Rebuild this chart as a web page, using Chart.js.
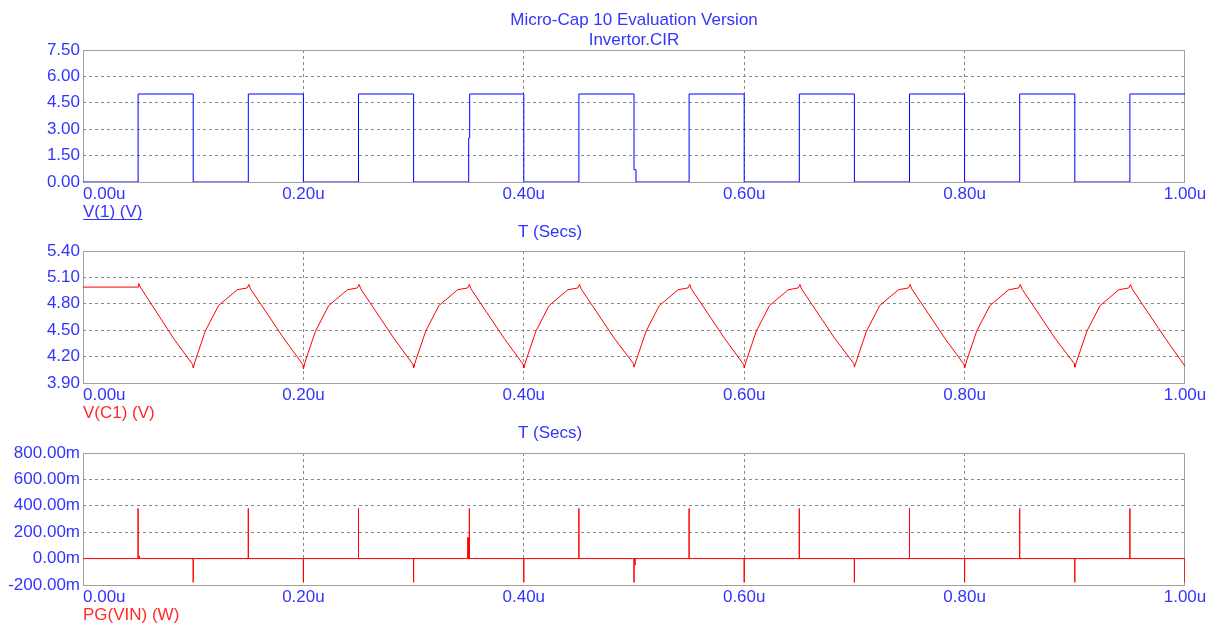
<!DOCTYPE html>
<html>
<head>
<script src="https://cdn.jsdelivr.net/npm/chart.js@4/dist/chart.umd.min.js"></script>
<style>
  body { margin: 0; background: #fff; }
  #wrap { position: relative; width: 1209px; height: 625px; }
  #wrap canvas { position: absolute; left: 0; top: 0; }
</style>
</head>
<body>
<div id="wrap">
  <canvas id="c1" width="1209" height="625"></canvas>
  <canvas id="c2" width="1209" height="625"></canvas>
  <canvas id="c3" width="1209" height="625"></canvas>
</div>
<script>
// time axis, microseconds
const timeTicks = ['0.00u', '0.20u', '0.40u', '0.60u', '0.80u', '1.00u'];

// V(1) - input square wave (step points)
const v1Time = [0, 0.05, 0.10, 0.15, 0.20, 0.25, 0.30, 0.35, 0.3509, 0.40, 0.45, 0.50, 0.5018,
                0.55, 0.60, 0.65, 0.70, 0.75, 0.80, 0.85, 0.90, 0.95, 1.00];
const v1Volt = [0, 5, 0, 5, 0, 5, 0, 2.5, 5, 0, 5, 0.7, 0,
                5, 0, 5, 0, 5, 0, 5, 0, 5, 5];
const v1Ticks = ['0.00', '1.50', '3.00', '4.50', '6.00', '7.50'];

// V(C1) - capacitor voltage
const vc1Time = [
  0.000, 0.050, 0.0506, 0.052, 0.082, 0.0995, 0.100, 0.1018, 0.111, 0.123, 0.140, 0.149,
  0.1506, 0.152, 0.182, 0.1995, 0.200, 0.2018, 0.211, 0.223, 0.240, 0.249,
  0.2506, 0.252, 0.282, 0.2995, 0.300, 0.3018, 0.311, 0.323, 0.340, 0.349,
  0.3506, 0.352, 0.382, 0.3995, 0.400, 0.4018, 0.411, 0.423, 0.440, 0.449,
  0.4506, 0.452, 0.482, 0.4995, 0.500, 0.5018, 0.511, 0.523, 0.540, 0.549,
  0.5506, 0.552, 0.582, 0.5995, 0.600, 0.6018, 0.611, 0.623, 0.640, 0.649,
  0.6506, 0.652, 0.682, 0.6995, 0.700, 0.7018, 0.711, 0.723, 0.740, 0.749,
  0.7506, 0.752, 0.782, 0.7995, 0.800, 0.8018, 0.811, 0.823, 0.840, 0.849,
  0.8506, 0.852, 0.882, 0.8995, 0.900, 0.9018, 0.911, 0.923, 0.940, 0.949,
  0.9506, 0.952, 0.982, 1.000
];
const vc1Volt = [
  4.99, 4.99, 5.03, 4.99, 4.41, 4.11, 4.07, 4.15, 4.49, 4.78, 4.96, 4.98,
  5.02, 4.97, 4.41, 4.11, 4.06, 4.15, 4.49, 4.78, 4.96, 4.98,
  5.02, 4.97, 4.41, 4.11, 4.07, 4.15, 4.49, 4.78, 4.96, 4.98,
  5.02, 4.97, 4.41, 4.11, 4.07, 4.15, 4.49, 4.78, 4.96, 4.98,
  5.02, 4.97, 4.41, 4.12, 4.08, 4.15, 4.49, 4.78, 4.96, 4.98,
  5.02, 4.97, 4.41, 4.11, 4.07, 4.15, 4.49, 4.78, 4.96, 4.98,
  5.02, 4.97, 4.41, 4.12, 4.08, 4.15, 4.49, 4.78, 4.96, 4.98,
  5.02, 4.97, 4.41, 4.11, 4.07, 4.15, 4.49, 4.78, 4.96, 4.98,
  5.02, 4.97, 4.41, 4.12, 4.08, 4.15, 4.49, 4.78, 4.96, 4.98,
  5.02, 4.97, 4.41, 4.09
];
const vc1Ticks = ['3.90', '4.20', '4.50', '4.80', '5.10', '5.40'];

// PG(VIN) - power spikes (W), baseline 0
const pgSpikeTime = [0.05, 0.0512, 0.10, 0.15, 0.20, 0.25, 0.30, 0.3492, 0.3500, 0.3506, 0.40, 0.45,
                     0.50, 0.5010, 0.55, 0.60, 0.65, 0.70, 0.75, 0.80, 0.85, 0.90, 0.95, 1.00];
const pgSpikeW = [0.38, 0.02, -0.18, 0.38, -0.18, 0.38, -0.18, 0.16, 0.16, 0.38, -0.18, 0.38,
                  -0.18, -0.05, 0.38, -0.18, 0.38, -0.18, 0.38, -0.18, 0.38, -0.18, 0.38, -0.18];
const pgTicks = ['-200.00m', '0.00m', '200.00m', '400.00m', '600.00m', '800.00m'];

const FAMILY = '"Liberation Sans", Arial, sans-serif';
const BLUE_TXT = '#3434ff';
const RED_TXT = '#ff2a2a';
Chart.defaults.font.family = FAMILY;
Chart.defaults.font.size = 17;

function innerGrid(ctx) {
  const n = ctx.scale.ticks.length;
  return (ctx.index > 0 && ctx.index < n - 1) ? '#8a8a8a' : 'rgba(0,0,0,0)';
}

function panelPlugin(cfg) {
  return {
    id: 'panel_' + cfg.id,
    beforeDatasetsDraw(chart) {
      const a = chart.chartArea, c = chart.ctx;
      c.save();
      c.strokeStyle = '#a0a0a0';
      c.lineWidth = 1;
      c.strokeRect(a.left + 0.5, a.top + 0.5, a.right - a.left - 1, a.bottom - a.top);
      c.restore();
    },
    afterDraw(chart) {
      const a = chart.chartArea, c = chart.ctx, xs = chart.scales.x;
      c.save();
      c.font = '17px ' + FAMILY;
      c.textBaseline = 'middle';
      c.fillStyle = BLUE_TXT;
      xs.ticks.forEach((t, i) => {
        c.textAlign = i === 0 ? 'left' : 'center';
        c.fillText(timeTicks[i], xs.getPixelForValue(t.value), a.bottom + 12);
      });
      // trace name under the axis
      c.textAlign = 'left';
      c.fillStyle = cfg.nameColor;
      c.fillText(cfg.name, a.left, a.bottom + 30);
      if (cfg.underline) {
        const w = c.measureText(cfg.name).width;
        c.fillRect(a.left, a.bottom + 37, w, 1);
      }
      if (cfg.secs) {
        c.textAlign = 'center';
        c.fillStyle = BLUE_TXT;
        c.fillText('T (Secs)', a.left + 467, a.bottom + 50);
      }
      if (cfg.title) {
        c.textAlign = 'center';
        c.fillStyle = BLUE_TXT;
        const cx = (a.left + a.right) / 2;
        c.fillText('Micro-Cap 10 Evaluation Version', cx, 20);
        c.fillText('Invertor.CIR', cx, 40);
      }
      c.restore();
    }
  };
}

function makeChart(cfg) {
  const pts = cfg.xs.map((x, i) => ({ x: x, y: cfg.ys[i] }));
  return new Chart(document.getElementById(cfg.id), {
    type: 'line',
    data: {
      datasets: [{
        data: pts,
        borderColor: cfg.color,
        borderWidth: 1,
        pointRadius: 0,
        tension: 0,
        stepped: cfg.stepped || false
      }]
    },
    options: {
      responsive: false,
      animation: false,
      events: [],
      layout: {
        autoPadding: false,
        padding: { left: 0, right: 24, top: cfg.top, bottom: 625 - cfg.bottom }
      },
      plugins: { legend: { display: false }, tooltip: { enabled: false } },
      scales: {
        x: {
          type: 'linear', min: 0, max: 1,
          ticks: { display: false, stepSize: 0.2 },
          grid: { color: innerGrid, drawTicks: false, lineWidth: 1 },
          border: { display: false, dash: [3, 3] },
          afterFit: s => { s.height = 0; }
        },
        y: {
          type: 'linear', min: cfg.min, max: cfg.max,
          ticks: {
            stepSize: cfg.step, padding: 3, color: BLUE_TXT,
            callback: (v, i) => cfg.yTicks[i]
          },
          grid: { color: innerGrid, drawTicks: false, lineWidth: 1 },
          border: { display: false, dash: [3, 3] },
          afterFit: s => { s.width = 83; }
        }
      }
    },
    plugins: [panelPlugin(cfg)]
  });
}

// build PG(VIN) trace from the spike lists
const pgTime = [0], pgW = [0];
pgSpikeTime.forEach((t, i) => {
  pgTime.push(t, t, t);
  pgW.push(0, pgSpikeW[i], 0);
});

makeChart({ id: 'c1', xs: v1Time, ys: v1Volt, color: '#0000ff', stepped: true,
  top: 50, bottom: 182, min: 0, max: 7.5, step: 1.5, yTicks: v1Ticks,
  name: 'V(1) (V)', nameColor: BLUE_TXT, underline: true, secs: true, title: true });

makeChart({ id: 'c2', xs: vc1Time, ys: vc1Volt, color: '#ff0000',
  top: 251, bottom: 383, min: 3.9, max: 5.4, step: 0.3, yTicks: vc1Ticks,
  name: 'V(C1) (V)', nameColor: RED_TXT, secs: true });

makeChart({ id: 'c3', xs: pgTime, ys: pgW, color: '#ff0000',
  top: 453, bottom: 585, min: -0.2, max: 0.8, step: 0.2, yTicks: pgTicks,
  name: 'PG(VIN) (W)', nameColor: RED_TXT });
</script>
</body>
</html>
